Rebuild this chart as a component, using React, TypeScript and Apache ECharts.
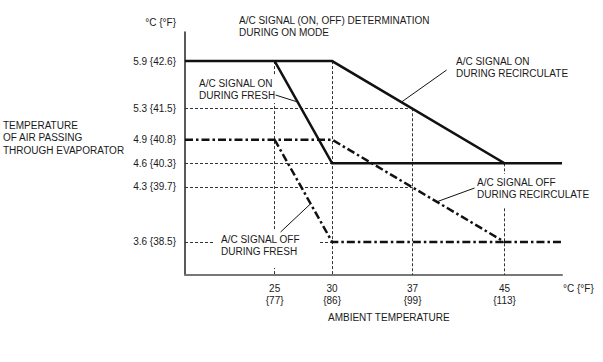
import React, { useEffect, useRef } from "react";
import * as echarts from "echarts";

const X_MIN = 17.2;
const X_MAX = 50;
const Y_MIN = 3.18;
const Y_MAX = 6.27;

const xTicks = [25, 30, 37, 45];
const xTicksF = ["{77}", "{86}", "{99}", "{113}"];
const yTicks = [5.9, 5.3, 4.9, 4.6, 4.3, 3.6];
const yTicksF = ["{42.6}", "{41.5}", "{40.8}", "{40.3}", "{39.7}", "{38.5}"];

const onRecirculate = [[X_MIN, 5.9], [30, 5.9], [45, 4.6], [X_MAX, 4.6]];
const onFresh = [[25, 5.9], [30, 4.6], [45, 4.6]];
const offRecirculate = [[X_MIN, 4.9], [30, 4.9], [45, 3.6], [X_MAX, 3.6]];
const offFresh = [[25, 4.9], [30, 3.6], [45, 3.6]];

const guides = [
  [[X_MIN, 5.3], [37, 5.3]],
  [[37, 5.3], [37, Y_MIN]],
  [[X_MIN, 4.6], [30, 4.6]],
  [[X_MIN, 4.3], [37, 4.3]],
  [[X_MIN, 3.6], [30, 3.6]],
  [[25, 5.9], [25, Y_MIN]],
  [[30, 5.9], [30, Y_MIN]],
  [[45, 4.6], [45, Y_MIN]],
];

const leaders = [
  [[39.96, 5.786], [36.04, 5.38]],
  [[25.09, 5.468], [27.0, 5.38]],
  [[42.39, 4.286], [39.09, 4.11]],
  [[25.52, 3.727], [28.13, 4.086]],
];

const FONT = "'Liberation Sans', Arial, Helvetica, sans-serif";
const TXT = "#1a1a1a";

function findIdx(arr: number[], v: number) {
  for (let i = 0; i < arr.length; i++) if (Math.abs(arr[i] - v) < 1e-6) return i;
  return -1;
}

export default function App() {
  const ref = useRef<HTMLDivElement>(null);
  useEffect(() => {
    const chart = echarts.init(ref.current!, null, { renderer: "svg" });
    const txt = (text: string, x: number, y: number, extra: any = {}) => ({
      type: "text",
      x,
      y,
      z: 100,
      silent: true,
      style: {
        text,
        fontSize: 10,
        fontFamily: FONT,
        fill: TXT,
        lineHeight: 12.5,
        align: "left",
        verticalAlign: "top",
        ...extra,
      },
    });
    const mainLine = (name: string, data: number[][], dash: any, width: number) => ({
      name,
      type: "line",
      data,
      symbol: "none",
      showSymbol: false,
      clip: false,
      silent: true,
      z: 3,
      lineStyle: { color: "#111", width, type: dash, cap: "butt", join: "miter" },
    });
    chart.setOption({
      animation: false,
      backgroundColor: "#fff",
      textStyle: { fontFamily: FONT },
      grid: { left: 185, right: 41, top: 32, bottom: 87, containLabel: false },
      xAxis: {
        type: "value",
        min: X_MIN,
        max: X_MAX,
        splitLine: { show: false },
        axisTick: { show: false },
        axisLine: { show: true, onZero: false, lineStyle: { color: "#777", width: 2 } },
        axisLabel: {
          customValues: xTicks,
          margin: 7,
          fontSize: 10,
          fontFamily: FONT,
          color: TXT,
          lineHeight: 12.5,
          formatter: (v: number) => {
            const i = findIdx(xTicks, v);
            return i < 0 ? "" : `${xTicks[i]}\n${xTicksF[i]}`;
          },
        },
      },
      yAxis: {
        type: "value",
        min: Y_MIN,
        max: Y_MAX,
        splitLine: { show: false },
        axisTick: { show: false },
        axisLine: { show: true, onZero: false, lineStyle: { color: "#222", width: 1.5 } },
        axisLabel: {
          customValues: yTicks,
          margin: 9,
          fontSize: 10,
          fontFamily: FONT,
          color: TXT,
          formatter: (v: number) => {
            const i = findIdx(yTicks, v);
            return i < 0 ? "" : `${yTicks[i].toFixed(1)} ${yTicksF[i]}`;
          },
        },
      },
      series: [
        {
          name: "guides",
          type: "lines",
          coordinateSystem: "cartesian2d",
          silent: true,
          z: 1,
          data: guides.map((c) => ({ coords: c })),
          lineStyle: { color: "#333", width: 1, type: [3, 2], opacity: 1 },
        },
        {
          name: "leaders",
          type: "lines",
          coordinateSystem: "cartesian2d",
          silent: true,
          z: 101,
          data: leaders.map((c) => ({ coords: c })),
          lineStyle: { color: "#111", width: 1, type: "solid", opacity: 1 },
        },
        mainLine("A/C SIGNAL ON DURING RECIRCULATE", onRecirculate, "solid", 2.5),
        mainLine("A/C SIGNAL ON DURING FRESH", onFresh, "solid", 2.5),
        mainLine("A/C SIGNAL OFF DURING RECIRCULATE", offRecirculate, [8, 3, 2.5, 3], 2.5),
        mainLine("A/C SIGNAL OFF DURING FRESH", offFresh, [8, 3, 2.5, 3], 2.5),
      ],
      graphic: {
        elements: [
          txt("A/C SIGNAL (ON, OFF) DETERMINATION\nDURING ON MODE", 239, 14),
          txt("A/C SIGNAL ON\nDURING RECIRCULATE", 455, 55, { backgroundColor: "#fff", padding: [0, 1, 0, 1] }),
          txt("A/C SIGNAL ON\nDURING FRESH", 198, 76, { backgroundColor: "#fff", padding: [1, 1, 1, 1] }),
          txt("TEMPERATURE\nOF AIR PASSING\nTHROUGH EVAPORATOR", 3, 119),
          txt("A/C SIGNAL OFF\nDURING RECIRCULATE", 476, 174, { backgroundColor: "#fff", padding: [2, 1, 6, 1] }),
          txt("A/C SIGNAL OFF\nDURING FRESH", 213, 231, { backgroundColor: "#fff", padding: [2, 20, 10, 8] }),
          txt("AMBIENT TEMPERATURE", 328, 311),
          txt("°C {°F}", 563, 282),
          txt("°C {°F}", 176, 16, { align: "right" }),
        ],
      },
    });
    return () => chart.dispose();
  }, []);
  return (
    <div
      ref={ref}
      style={{ position: "fixed", left: 0, top: 0, width: 603, height: 362, background: "#fff" }}
    />
  );
}
